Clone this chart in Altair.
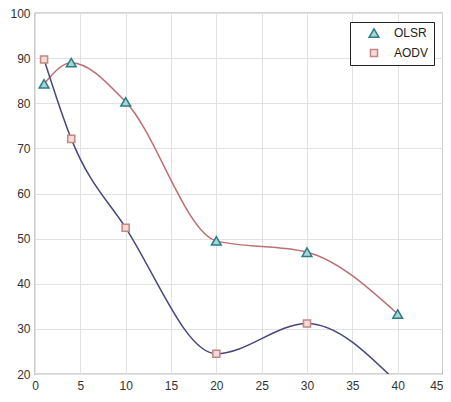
import altair as alt
import pandas as pd

x_olsr = [1, 4, 10, 20, 30, 40]
y_olsr = [84.3, 89.0, 80.3, 49.5, 47.0, 33.3]
x_aodv = [1, 4, 10, 20, 30, 40]
y_aodv = [89.7, 72.1, 52.4, 24.5, 31.2, 18.0]
series = ["OLSR", "AODV"]

rows = []
for xv, yv in zip(x_olsr, y_olsr):
    rows.append({"x": xv, "y": yv, "series": "OLSR"})
for xv, yv in zip(x_aodv, y_aodv):
    rows.append({"x": xv, "y": yv, "series": "AODV"})
df = pd.DataFrame(rows)

xs = alt.Scale(domain=[0, 45], nice=False, zero=False)
ys = alt.Scale(domain=[20, 100], nice=False, zero=False)
xax = alt.Axis(values=list(range(0, 50, 5)), title=None, ticks=False, labelPadding=6,
               gridColor="#e2e2e2", domain=False, labelFlush=False,
               labelAlign={"condition": {"test": "datum.value == 45", "value": "right"}, "value": "center"})
yax = alt.Axis(values=list(range(20, 110, 10)), title=None, ticks=False, labelPadding=5,
               gridColor="#e2e2e2", domain=False)

base = alt.Chart(df)

line_olsr = base.transform_filter(alt.datum.series == "OLSR").mark_line(
    interpolate="monotone", strokeWidth=1.5, clip=True, color="#bd7072"
).encode(
    x=alt.X("x:Q", scale=xs, axis=xax),
    y=alt.Y("y:Q", scale=ys, axis=yax),
)
line_aodv = base.transform_filter(alt.datum.series == "AODV").mark_line(
    interpolate="monotone", strokeWidth=1.5, clip=True, color="#48487f"
).encode(
    x=alt.X("x:Q", scale=xs),
    y=alt.Y("y:Q", scale=ys),
)

legend = alt.Legend(title=None, orient="none", legendX=315, legendY=9, padding=5,
                    strokeColor="#222", fillColor="white",
                    labelFont="Liberation Sans", labelFontSize=12, labelColor="#222",
                    symbolOffset=13, labelOffset=14, rowPadding=5,
                    symbolStrokeWidth=1.5)

points = base.mark_point(filled=True, strokeWidth=1.5, opacity=1, clip=True).encode(
    x=alt.X("x:Q", scale=xs),
    y=alt.Y("y:Q", scale=ys),
    shape=alt.Shape("series:N", scale=alt.Scale(domain=series, range=["triangle-up", "square"]), legend=legend),
    stroke=alt.Stroke("series:N", scale=alt.Scale(domain=series, range=["#2b7c86", "#c48686"]), legend=legend),
    fill=alt.Fill("series:N", scale=alt.Scale(domain=series, range=["#a7d4d6", "#f4dcd6"]), legend=legend),
    size=alt.Size("series:N", scale=alt.Scale(domain=series, range=[95, 50]), legend=legend),
)

chart = alt.layer(line_olsr, line_aodv, points).properties(
    width=408, height=361,
    autosize=alt.AutoSizeParams(type="none"),
    padding={"left": 27, "top": 5, "right": 0, "bottom": 20},
).configure_view(stroke="#555", strokeWidth=1.2).configure_axis(
    labelFont="Liberation Sans", labelFontSize=12, labelColor="#333"
)

chart.save("out.html", embed_options={"renderer": "svg", "actions": False})
